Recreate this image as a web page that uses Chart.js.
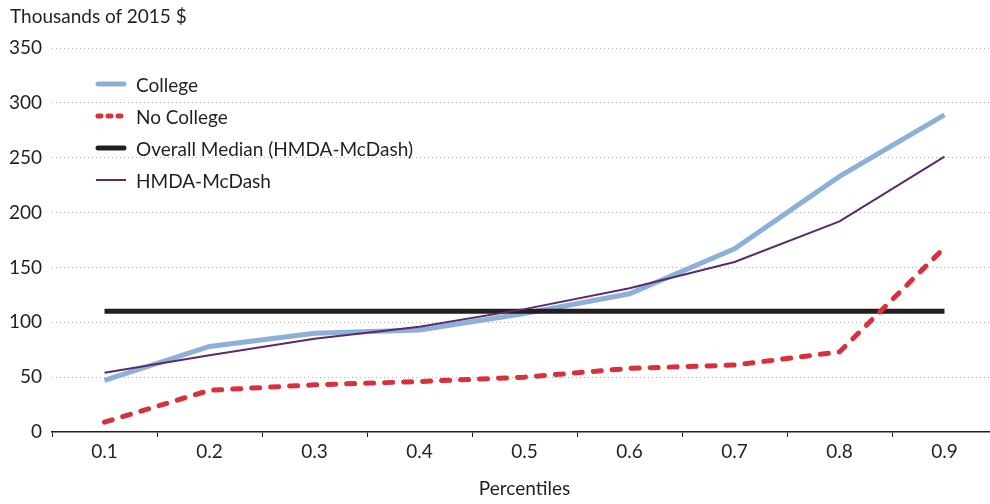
<!DOCTYPE html>
<html><head><meta charset="utf-8">
<script src="https://cdn.jsdelivr.net/npm/chart.js@4/dist/chart.umd.min.js"></script>
<style>
html,body{margin:0;padding:0;background:#fff;overflow:hidden;width:990px;height:504px;}
#wrap{position:absolute;left:0;top:0;width:1000px;height:504px;}
#ytitle{position:absolute;left:10px;top:4px;font:19px Lato;color:#231f20;white-space:nowrap;}
#legend{position:absolute;left:95px;top:68px;font:19px Lato;color:#231f20;}
.row{height:32px;display:flex;align-items:center;white-space:nowrap;}
.row svg{margin-right:9px;}
</style></head>
<body>
<div id="wrap"><canvas id="c"></canvas></div>
<div id="ytitle">Thousands of 2015 $</div>
<div id="legend"></div>
<script>
const categories = ['0.1','0.2','0.3','0.4','0.5','0.6','0.7','0.8','0.9'];
const college = [47,78,90,93,108,126,167,233,289];
const noCollege = [9,38,43,46,50,58,61,73,168];
const overallMedian = [110,110,110,110,110,110,110,110,110];
const hmdaMcDash = [54,70,85,96,112,131,155,192,251];
const yTicks = [0,50,100,150,200,250,300,350];
const seriesNames = ['College','No College','Overall Median (HMDA-McDash)','HMDA-McDash'];
const xTitle = 'Percentiles';

const datasets = [
  {label:seriesNames[0], data:college, borderColor:'#8cb0d8', borderWidth:5, order:3},
  {label:seriesNames[1], data:noCollege, borderColor:'#d8313b', borderWidth:5, borderDash:[8,11], borderCapStyle:'round', order:1},
  {label:seriesNames[2], data:overallMedian, borderColor:'#231f20', borderWidth:5, order:2},
  {label:seriesNames[3], data:hmdaMcDash, borderColor:'#5b2a6b', borderWidth:2, order:0}
].map(d=>Object.assign({pointRadius:0, pointHoverRadius:0, tension:0, fill:false}, d));

// legend
const lg = document.getElementById('legend');
datasets.forEach(d=>{
  const row = document.createElement('div'); row.className='row';
  const dash = d.borderDash ? `stroke-dasharray="3 7"` : '';
  const cap = d.borderWidth>=4 ? 'round':'butt';
  row.innerHTML = `<svg width="32" height="8"><line x1="${cap==='round'?3:1}" y1="4" x2="${cap==='round'?29:31}" y2="4" stroke="${d.borderColor}" stroke-width="${d.borderWidth}" stroke-linecap="${cap}" ${dash}/></svg><span>${d.label}</span>`;
  lg.appendChild(row);
});

new Chart(document.getElementById('c'), {
  type:'line',
  data:{labels:categories, datasets},
  options:{
    responsive:true, maintainAspectRatio:false, animation:false,
    layout:{padding:{top:48, right:3, left:0, bottom:0}},
    plugins:{legend:{display:false}, tooltip:{enabled:false}},
    scales:{
      x:{
        offset:true,
        grid:{display:true, offset:true, drawOnChartArea:false, drawTicks:true, tickLength:5, color:'#231f20', lineWidth:1},
        border:{display:true, color:'#231f20', width:1.5},
        ticks:{color:'#231f20', font:{family:'Lato', size:19}, padding:3},
        title:{display:true, text:xTitle, color:'#231f20', font:{family:'Lato', size:19}, padding:{top:10,bottom:4}},
        afterFit:s=>{s.height=72;}
      },
      y:{
        min:0, max:350,
        afterBuildTicks:s=>{s.ticks = yTicks.map(v=>({value:v}));},
        grid:{drawTicks:false, color:(ctx)=>ctx.tick && ctx.tick.value===0 ? 'rgba(0,0,0,0)' : '#b5b5b5', lineWidth:1},
        border:{display:false, dash:[1,3]},
        ticks:{color:'#231f20', font:{family:'Lato', size:19}, padding:10},
        afterFit:s=>{s.width=52;}
      }
    }
  }
});
</script>
</body></html>
